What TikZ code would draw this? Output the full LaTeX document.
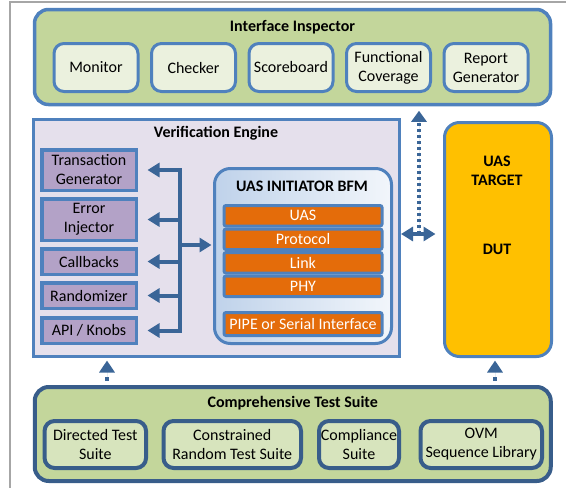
\documentclass[tikz,border=0pt]{standalone}
\usepackage{fontspec}
\setmainfont{Carlito}
\usetikzlibrary{arrows.meta}
\definecolor{bordB}{HTML}{4F81BD}
\definecolor{darkB}{HTML}{385D8A}
\definecolor{arrB}{HTML}{3A6597}
\definecolor{grnO}{HTML}{C3D69B}
\definecolor{grnI}{HTML}{EBF1DE}
\definecolor{grnC}{HTML}{D7E4BD}
\definecolor{veF}{HTML}{E5E0EC}
\definecolor{purp}{HTML}{B3A2C7}
\definecolor{orng}{HTML}{E46C0A}
\definecolor{dutF}{HTML}{FFC000}
\definecolor{frameG}{HTML}{A6A6A6}
\definecolor{bfmL}{HTML}{BFD2EA}
\definecolor{bfmR}{HTML}{F2F6FB}
\begin{document}
\begin{tikzpicture}[x=1pt,y=-1pt,
  lbl/.style={font=\fontsize{16}{19}\selectfont, align=center, inner sep=0pt},
  ttl/.style={font=\fontsize{16}{19}\selectfont\bfseries, align=center, inner sep=0pt},
  outerbox/.style={draw=bordB, line width=3.5pt, fill=grnO, rounded corners=14pt, inner sep=0pt},
  iibox/.style={lbl, draw=bordB, line width=3pt, fill=grnI, rounded corners=10pt, minimum width=84pt, minimum height=48pt},
  vebox/.style={draw=bordB, line width=3pt, fill=veF, inner sep=0pt},
  pbox/.style={lbl, draw=bordB, line width=3.5pt, fill=purp, minimum width=94.5pt},
  bfmbox/.style={draw=bordB, line width=3pt, rounded corners=16pt, left color=bfmL, right color=bfmR, inner sep=0pt},
  rowbox/.style={lbl, text=white, draw=bordB, line width=3pt, fill=orng, rounded corners=2pt, minimum width=158pt, minimum height=20.5pt},
  dutbox/.style={draw=bordB, line width=3pt, fill=dutF, rounded corners=15pt, inner sep=0pt},
  ctsbox/.style={draw=darkB, line width=4pt, fill=grnO, rounded corners=14pt, inner sep=0pt},
  ctsin/.style={lbl, draw=darkB, line width=4pt, fill=grnC, rounded corners=10pt, minimum height=47pt},
  busline/.style={draw=arrB, line width=4pt, line cap=rect},
  arr/.style={draw=arrB, fill=arrB, line width=4pt, -{Triangle[length=12pt,width=14pt]}},
  darr/.style={draw=arrB, fill=arrB, line width=4pt, {Triangle[length=12pt,width=14pt]}-{Triangle[length=12pt,width=14pt]}},
  dotarr/.style={draw=arrB, fill=arrB, line width=3.5pt, dash pattern=on 3pt off 3pt, -{Triangle[length=11pt,width=15pt]}}
]
\useasboundingbox (0,0) rectangle (566,488);
\draw[frameG, line width=1.2pt] (566,2) -- (10,2) -- (10,488);

% Interface Inspector
\node[outerbox, minimum width=516pt, minimum height=95pt] (ii) at (292.5,57) {};
\node[ttl] (iit) at (292.5,27) {Interface Inspector};
\node[iibox] (mon) at (96,67.5) {Monitor};
\node[iibox] (chk) at (193.5,67.5) {Checker};
\node[iibox] (scb) at (291,67.5) {Scoreboard};
\node[iibox] (fcov) at (388.5,67.5) {Functional\\Coverage};
\node[iibox] (rgen) at (486,67.5) {Report\\Generator};

% Verification Engine
\node[vebox, minimum width=366pt, minimum height=237pt] (ve) at (216.5,238) {};
\node[ttl] (vet) at (216,133) {Verification Engine};
\node[pbox, minimum height=40.5pt] (tg) at (89,170) {Transaction\\Generator};
\node[pbox, minimum height=41.5pt] (ei) at (89,219.5) {Error\\Injector};
\node[pbox, minimum height=25.5pt] (cb) at (89,261.5) {Callbacks};
\node[pbox, minimum height=25.5pt] (rnd) at (89,295.5) {Randomizer};
\node[pbox, minimum height=25.5pt] (api) at (89,330.5) {API / Knobs};

\coordinate (bustop) at (180,170);
\coordinate (busbot) at (180,330.5);
\coordinate (busj) at (180,245);
\draw[busline] (bustop) -- (busbot);
\foreach \n in {tg,ei,cb,rnd,api}
  \draw[arr, shorten >=9.5pt] (bustop |- \n.east) -- (\n.east);

% BFM
\node[bfmbox, minimum width=177pt, minimum height=175pt] (bfm) at (303,256) {};
\node[ttl] (bfmt) at (302,186) {UAS INITIATOR BFM};
\node[rowbox] (ruas) at (303,215.75) {UAS};
\node[rowbox] (rprot) at (303,239.25) {Protocol};
\node[rowbox] (rlink) at (303,262.75) {Link};
\node[rowbox] (rphy) at (303,286.25) {PHY};
\node[rowbox, minimum height=23pt] (rpipe) at (303,324) {PIPE or Serial Interface};
\draw[arr, shorten >=1.5pt] (busj) -- (busj -| bfm.west);

% DUT
\node[dutbox, minimum width=107pt, minimum height=234pt] (dut) at (498,239.5) {};
\node[ttl] (dutt) at (497,171) {UAS\\TARGET};
\node[ttl] (dutl) at (497,249) {DUT};

% connections
\coordinate (dj) at (419,234);
\draw[dotarr, shorten >=4.5pt] (dj) -- (dj |- ii.south);
\draw[darr, shorten >=7.5pt] (ve.east |- dj) -- (dut.west |- dj);

\coordinate (ua) at (107,0);
\coordinate (ub) at (495,0);
\draw[dotarr, dash pattern=on 4pt off 6pt, shorten <=6pt, shorten >=2.5pt,
  -{Triangle[length=12pt,width=15pt]}] (ua |- 387,387) -- (ua |- ve.south);
\draw[dotarr, dash pattern=on 4pt off 6pt, shorten <=6pt, shorten >=2.5pt,
  -{Triangle[length=12pt,width=15pt]}] (ub |- 387,387) -- (ub |- dut.south);

% Comprehensive Test Suite
\node[ctsbox, minimum width=516pt, minimum height=94pt] (cts) at (292.75,434) {};
\node[ttl] (ctst) at (292.7,403) {Comprehensive Test Suite};
\node[ctsin, minimum width=101.5pt] (dts) at (95.3,444.5) {Directed Test\\Suite};
\node[ctsin, minimum width=137.5pt] (crts) at (232.25,444.5) {Constrained\\Random Test Suite};
\node[ctsin, minimum width=80pt] (cs) at (359,444.5) {Compliance\\Suite};
\node[ctsin, minimum width=121.5pt] (ovm) at (481.25,444.5) {OVM\\Sequence Library};
\end{tikzpicture}
\end{document}
